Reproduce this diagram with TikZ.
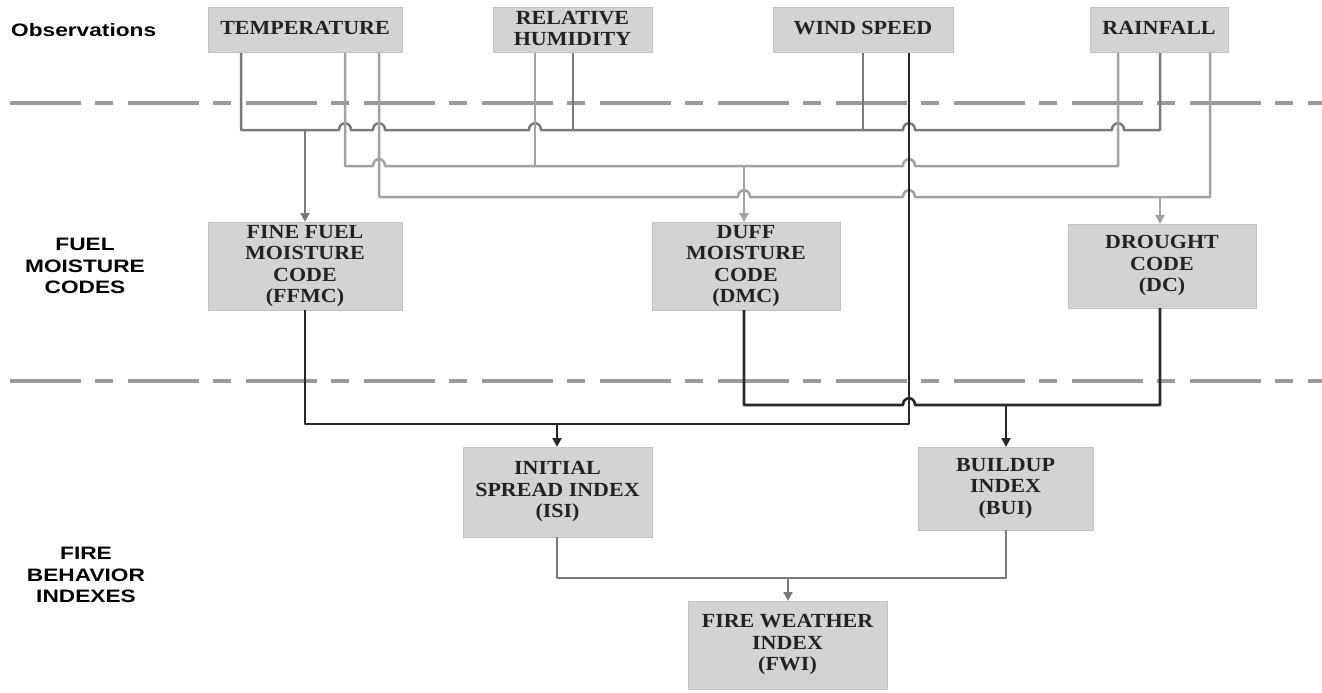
\documentclass[tikz,border=0pt]{standalone}
\usepackage{fontspec}
\setmainfont{Liberation Serif}
\setsansfont{Liberation Sans}
\usepackage{graphicx}
\usetikzlibrary{arrows.meta}
\definecolor{boxfill}{HTML}{D3D3D3}
\definecolor{boxline}{HTML}{C2C2C2}
\definecolor{txt}{HTML}{222222}
\definecolor{gA}{HTML}{7A7A7A}
\definecolor{gB}{HTML}{A2A2A2}
\definecolor{dk}{HTML}{282828}
\definecolor{sepcol}{HTML}{9A9A9A}
\newcommand{\boxtxt}[1]{\scalebox{1.1}[1]{\fontsize{20}{21.5}\selectfont\bfseries\begin{tabular}{@{}c@{}}#1\end{tabular}}}
\newcommand{\lbltxt}[1]{\scalebox{1.26}[1]{\fontsize{18}{21.5}\selectfont\sffamily\bfseries\begin{tabular}{@{}c@{}}#1\end{tabular}}}
\tikzset{
  fbox/.style={draw=boxline, line width=1pt, fill=boxfill, text=txt, inner sep=0pt, outer sep=0pt, anchor=center},
  lbl/.style={text=black, inner sep=0pt},
  hop/.style args={#1/#2}{insert path={-- (#1-6,#2) .. controls (#1-6,#2-9) and (#1+6,#2-9) .. (#1+6,#2)}},
  wireA/.style={draw=gA, line width=2.5pt, line join=round},
  wireB/.style={draw=gB, line width=2.5pt, line join=round},
  wireD/.style={draw=dk, line width=2.6pt, line join=round},
  wireF/.style={draw=gA, line width=2.8pt, line join=round},
  tip/.style={-{Triangle[length=9pt,width=9pt]}},
  sep/.style={draw=sepcol, line width=3.5pt, dash pattern=on 71pt off 14pt on 18pt off 15pt},
}
\begin{document}
\begin{tikzpicture}[x=1pt,y=-1pt]
\useasboundingbox (0,0) rectangle (1322,693);
% separators
\draw[sep] (10,103) -- (1322,103);
\draw[sep] (10,381) -- (1322,381);
% left labels
\node[lbl, anchor=west] (obs) at (11,32) {\lbltxt{Observations}};
\node[lbl] (fmc) at (85,268) {\lbltxt{FUEL\\MOISTURE\\CODES}};
\node[lbl] (fbi) at (86,577) {\lbltxt{FIRE\\BEHAVIOR\\INDEXES}};
% boxes
\node[fbox, minimum width=194pt, minimum height=45pt] (temp) at (305,30.5) {\boxtxt{TEMPERATURE}};
\node[fbox, minimum width=159pt, minimum height=45pt] (rh) at (572.5,30.5) {\raisebox{-2pt}{\boxtxt{RELATIVE\\HUMIDITY}}};
\node[fbox, minimum width=180pt, minimum height=45pt] (ws) at (863,30.5) {\boxtxt{WIND SPEED}};
\node[fbox, minimum width=138pt, minimum height=45pt] (rain) at (1159,30.5) {\boxtxt{RAINFALL}};
\node[fbox, minimum width=194pt, minimum height=88pt] (ffmc) at (305,266) {\boxtxt{FINE FUEL\\MOISTURE\\CODE\\(FFMC)}};
\node[fbox, minimum width=188pt, minimum height=88pt] (dmc) at (746,266) {\boxtxt{DUFF\\MOISTURE\\CODE\\(DMC)}};
\node[fbox, minimum width=188pt, minimum height=84pt] (dc) at (1162,266) {\boxtxt{DROUGHT\\CODE\\(DC)}};
\node[fbox, minimum width=189pt, minimum height=90pt] (isi) at (557.5,492) {\boxtxt{INITIAL\\SPREAD INDEX\\(ISI)}};
\node[fbox, minimum width=175pt, minimum height=83pt] (bui) at (1005.5,488.5) {\boxtxt{BUILDUP\\INDEX\\(BUI)}};
\node[fbox, minimum width=199pt, minimum height=88pt] (fwi) at (787.5,645) {\boxtxt{FIRE WEATHER\\INDEX\\(FWI)}};
% bus A -> FFMC
\draw[wireA] (241,0 |- temp.south) -- (241,130) [hop=345/130] [hop=379/130] [hop=535/130] [hop=909/130] [hop=1118/130] -- (1160,130) -- (1160,0 |- rain.south);
\draw[wireA] (573,0 |- rh.south) -- (573,130);
\draw[wireA] (863,0 |- ws.south) -- (863,130);
\draw[wireA,tip] (305,130) -- (ffmc.north);
% bus B -> DMC
\draw[wireB] (345,0 |- temp.south) -- (345,166) [hop=379/166] [hop=909/166] -- (1118,166) -- (1118,0 |- rain.south);
\draw[wireB] (535,0 |- rh.south) -- (535,166);
\draw[wireB,tip] (744,166) -- (744,0 |- dmc.north);
% bus C -> DC
\draw[wireB] (379,0 |- temp.south) -- (379,197) [hop=744/197] [hop=909/197] -- (1210,197) -- (1210,0 |- rain.south);
\draw[wireB,tip] (1160,197) -- (1160,0 |- dc.north);
% ISI inputs
\draw[wireD] (ffmc.south) -- (305,424) -- (909,424) -- (909,0 |- ws.south);
\draw[wireD,tip] (557,424) -- (557,0 |- isi.north);
% BUI inputs
\draw[wireD] (744,0 |- dmc.south) -- (744,405) [hop=909/405] -- (1160,405) -- (1160,0 |- dc.south);
\draw[wireD,tip] (1006,405) -- (1006,0 |- bui.north);
% FWI inputs
\draw[wireF] (557,0 |- isi.south) -- (557,578) -- (1006,578) -- (1006,0 |- bui.south);
\draw[wireF,tip] (788,578) -- (788,0 |- fwi.north);
\end{tikzpicture}
\end{document}
